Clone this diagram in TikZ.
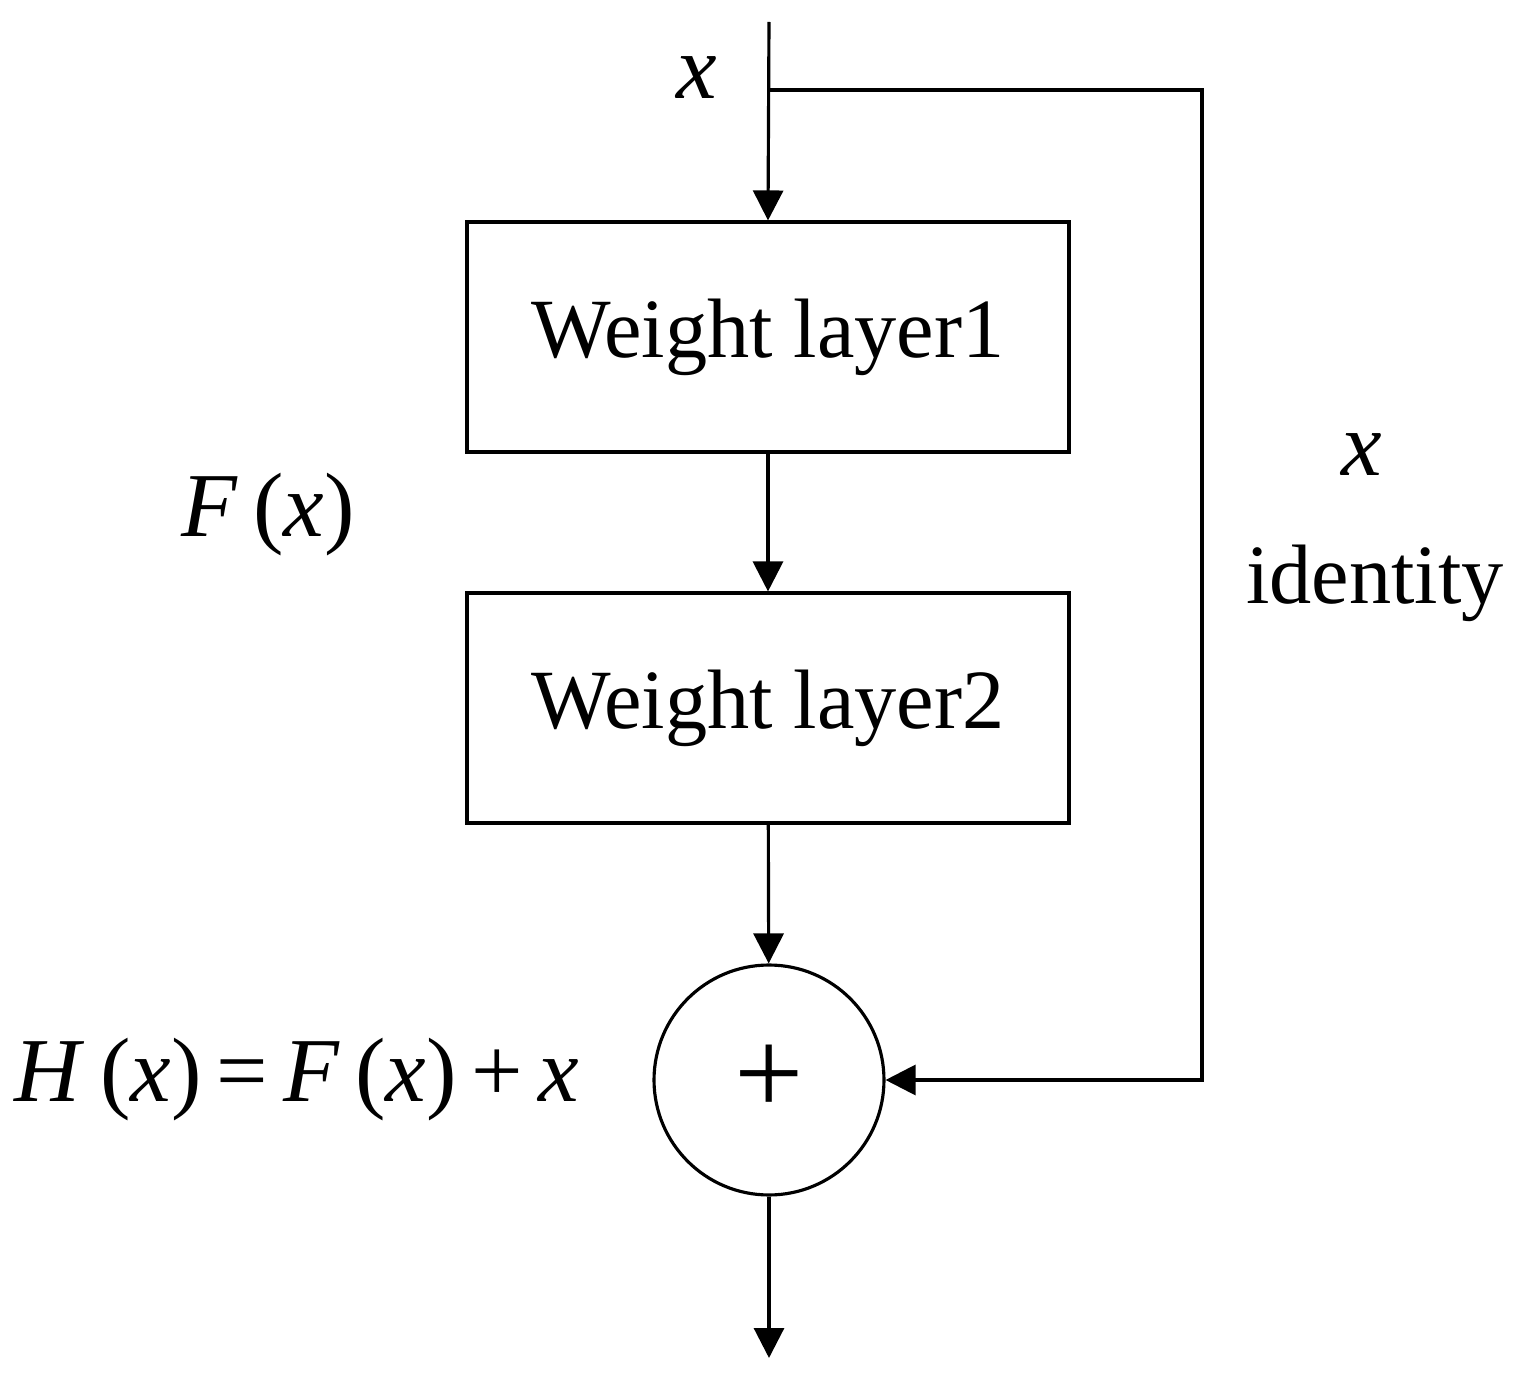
\documentclass[tikz,border=0pt]{standalone}
\usepackage{fontspec}
\setmainfont{Liberation Serif}
\usetikzlibrary{arrows.meta}
\begin{document}
\begin{tikzpicture}[x=0.02cm,y=-0.02cm,
  line width=1.8pt,
  arr/.style={-{Triangle[length=0.6cm,width=0.6cm]}},
  box/.style={draw,minimum width=12.04cm,minimum height=4.6cm,font=\fontsize{48}{56}\selectfont},
  lab/.style={font=\fontsize{52}{60}\selectfont}]
\useasboundingbox (0,0) rectangle (1516,1385);
\coordinate (top) at (769,22);
\coordinate (bot) at (769,1358);
\coordinate (split) at (769,90);
\coordinate (c1) at (1202,90);
\coordinate (c2) at (1202,1080);
\node[box] (w1) at (768,337) {Weight layer1};
\node[box] (w2) at (768,708) {Weight layer2};
\node[draw,circle,minimum size=4.6cm,inner sep=0pt,font=\fontsize{70}{70}\selectfont] (sum) at (769,1080) {+};
\draw[arr] (top) -- (w1.north);
\draw[arr] (w1) -- (w2);
\draw[arr] (w2) -- (sum);
\draw[arr] (sum) -- (bot);
\draw[arr] (split) -- (c1) -- (c2) -- (sum.east);
\node[lab] (xin) at (697,78) {\textit{x}};
\node[lab] (fx) at (268,515) {\textit{F}\,(\textit{x})};
\node[lab] (xid) at (1362,455) {\textit{x}};
\node[font=\fontsize{48}{56}\selectfont] (id) at (1375,583) {identity};
\node[lab] (hx) at (297,1080) {\textit{H}\,(\textit{x})\,=\,\textit{F}\,(\textit{x})\,+\,\textit{x}};
\end{tikzpicture}
\end{document}
